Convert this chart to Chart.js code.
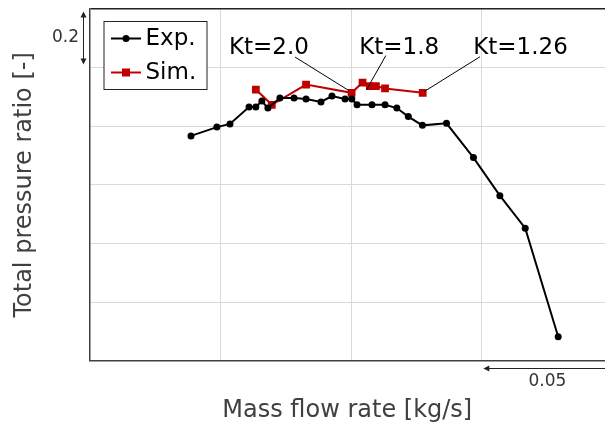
<!DOCTYPE html>
<html>
<head>
<meta charset="utf-8">
<script src="https://cdn.jsdelivr.net/npm/chart.js@4.4.1/dist/chart.umd.min.js"></script>
<style>
html, body { margin: 0; padding: 0; background: #fff; }
</style>
</head>
<body>
<canvas id="pressureChart" width="605" height="428"></canvas>
<script>
// values (x: kg/s, y: total pressure ratio)
const expFlow = [0.1388, 0.1487, 0.1537, 0.1610, 0.1636, 0.1659, 0.1682, 0.1728, 0.1782, 0.1828,
    0.1885, 0.1927, 0.1977, 0.2003, 0.2023, 0.2080, 0.2130, 0.2175, 0.2219, 0.2273,
    0.2365, 0.2468, 0.2569, 0.2666, 0.2792];
const expRatio = [1.767, 1.797, 1.808, 1.866, 1.866, 1.886, 1.862, 1.896, 1.896, 1.893,
    1.883, 1.903, 1.893, 1.893, 1.873, 1.873, 1.873, 1.862, 1.833, 1.803,
    1.810, 1.693, 1.563, 1.452, 1.082];

const simFlow = [0.1636, 0.1697, 0.1828, 0.2002, 0.2044, 0.2072, 0.2095, 0.2130, 0.2274];
const simRatio = [1.925, 1.873, 1.942, 1.914, 1.949, 1.937, 1.937, 1.929, 1.914];

const ktLabels = ['Kt=2.0', 'Kt=1.8', 'Kt=1.26'];
const ktTextX = [0.1686, 0.2184, 0.2648];
const ktTextY = [2.047, 2.047, 2.047];
const ktFromX = [0.1786, 0.2133, 0.2493];
const ktFromY = [2.036, 2.041, 2.037];
const ktToX = [0.1993, 0.2060, 0.2279];
const ktToY = [1.921, 1.926, 1.918];

const seriesNames = ['Exp.', 'Sim.'];
const xRange = [0.1, 0.2971];
const yRange = [1.0, 2.2];
const xBar = [0.25, 0.30];
const yBar = [2.2, 2.0];

const FONT = '"DejaVu Sans", Verdana, sans-serif';
const RED = '#c00000';

const toPoints = (xs, ys) => xs.map((x, i) => ({ x: x, y: ys[i] }));

function arrowHead(ctx, x, y, dx, dy) {
    // dx,dy: unit direction the arrow points to
    const len = 6, half = 3;
    ctx.beginPath();
    ctx.moveTo(x, y);
    ctx.lineTo(x - dx * len - dy * half, y - dy * len - dx * half);
    ctx.lineTo(x - dx * len + dy * half, y - dy * len + dx * half);
    ctx.closePath();
    ctx.fill();
}

const decorations = {
    id: 'decorations',
    afterDatasetsDraw(chart) {
        const { ctx, chartArea, scales: { x, y } } = chart;
        ctx.save();

        // leader lines and Kt labels
        ctx.strokeStyle = '#000';
        ctx.lineWidth = 1;
        ctx.fillStyle = '#000';
        ctx.font = '23px ' + FONT;
        ctx.textAlign = 'center';
        ctx.textBaseline = 'alphabetic';
        ktLabels.forEach((label, i) => {
            ctx.beginPath();
            ctx.moveTo(x.getPixelForValue(ktFromX[i]), y.getPixelForValue(ktFromY[i]));
            ctx.lineTo(x.getPixelForValue(ktToX[i]), y.getPixelForValue(ktToY[i]));
            ctx.stroke();
            ctx.fillText(label, x.getPixelForValue(ktTextX[i]), y.getPixelForValue(ktTextY[i]));
        });

        // legend box
        const bx = chartArea.left + 14.5, by = chartArea.top + 12.5;
        ctx.fillStyle = '#fff';
        ctx.fillRect(bx, by, 103, 68);
        ctx.strokeStyle = '#222';
        ctx.strokeRect(bx, by, 103, 68);
        const rows = [by + 17, by + 51];
        const colors = ['#000', RED];
        rows.forEach((ry, i) => {
            ctx.strokeStyle = colors[i];
            ctx.fillStyle = colors[i];
            ctx.lineWidth = 2;
            ctx.beginPath();
            ctx.moveTo(bx + 7, ry);
            ctx.lineTo(bx + 37, ry);
            ctx.stroke();
            if (i === 0) {
                ctx.beginPath();
                ctx.arc(bx + 22, ry, 3.5, 0, Math.PI * 2);
                ctx.fill();
            } else {
                ctx.fillRect(bx + 18, ry - 4, 8, 8);
            }
            ctx.fillStyle = '#000';
            ctx.textAlign = 'left';
            ctx.textBaseline = 'middle';
            ctx.fillText(seriesNames[i], bx + 41.5, ry + 1);
        });

        // scale bars
        ctx.strokeStyle = '#222';
        ctx.fillStyle = '#222';
        ctx.lineWidth = 1;
        const vx = Math.round(chartArea.left - 7) + 0.5;
        const vTop = y.getPixelForValue(yBar[0]) + 2.5;
        const vBot = y.getPixelForValue(yBar[1]) - 3;
        ctx.beginPath();
        ctx.moveTo(vx, vTop + 4);
        ctx.lineTo(vx, vBot - 4);
        ctx.stroke();
        arrowHead(ctx, vx, vTop, 0, -1);
        arrowHead(ctx, vx, vBot, 0, 1);
        ctx.font = '17px ' + FONT;
        ctx.textAlign = 'right';
        ctx.textBaseline = 'middle';
        ctx.fillStyle = '#333';
        ctx.fillText('0.2', chartArea.left - 10.5, (vTop + vBot) / 2);

        ctx.fillStyle = '#222';
        const hy = Math.round(chartArea.bottom + 7) + 0.5;
        const hLeft = x.getPixelForValue(xBar[0]) + 1.5;
        const hRight = x.getPixelForValue(xBar[1]) - 1;
        ctx.beginPath();
        ctx.moveTo(hLeft + 4, hy);
        ctx.lineTo(hRight - 4, hy);
        ctx.stroke();
        arrowHead(ctx, hLeft, hy, -1, 0);
        arrowHead(ctx, hRight, hy, 1, 0);
        ctx.fillStyle = '#333';
        ctx.textAlign = 'center';
        ctx.textBaseline = 'alphabetic';
        ctx.fillText('0.05', (hLeft + hRight) / 2, chartArea.bottom + 25.5);

        ctx.restore();
    }
};

new Chart(document.getElementById('pressureChart'), {
    type: 'line',
    data: {
        datasets: [{
            label: seriesNames[0],
            data: toPoints(expFlow, expRatio),
            borderColor: '#000',
            backgroundColor: '#000',
            borderWidth: 2,
            pointStyle: 'circle',
            pointRadius: 3.5,
            pointBorderWidth: 0,
            tension: 0,
        }, {
            label: seriesNames[1],
            data: toPoints(simFlow, simRatio),
            borderColor: RED,
            backgroundColor: RED,
            borderWidth: 2,
            pointStyle: 'rect',
            pointRadius: 5.5,
            pointBorderWidth: 0,
            tension: 0,
        }]
    },
    options: {
        responsive: false,
        animation: false,
        devicePixelRatio: 1,
        layout: { autoPadding: false, padding: { top: 9, right: 0, bottom: 0, left: 0 } },
        plugins: {
            legend: { display: false },
            tooltip: { enabled: false },
        },
        scales: {
            x: {
                type: 'linear',
                min: xRange[0],
                max: xRange[1],
                ticks: { display: false, stepSize: 0.05, includeBounds: false },
                grid: { color: '#d9d9d9', drawTicks: false },
                border: { color: '#404040', width: 1.5 },
                title: {
                    display: true,
                    text: 'Mass flow rate [kg/s]',
                    color: '#404040',
                    font: { family: FONT, size: 24 },
                    padding: { top: 35.6, bottom: 2.9 },
                },
            },
            y: {
                type: 'linear',
                min: yRange[0],
                max: yRange[1],
                ticks: { display: false, stepSize: 0.2 },
                grid: {
                    drawTicks: false,
                    color: c => (c.tick && Math.abs(c.tick.value - yRange[1]) < 1e-6) ? '#222' : '#d9d9d9',
                    lineWidth: c => (c.tick && Math.abs(c.tick.value - yRange[1]) < 1e-6) ? 1.5 : 1,
                },
                border: { color: '#404040', width: 1.5 },
                title: {
                    display: true,
                    text: 'Total pressure ratio [-]',
                    color: '#404040',
                    font: { family: FONT, size: 24 },
                    padding: { top: 10.6, bottom: 50.1 },
                },
            },
        },
    },
    plugins: [decorations],
});
</script>
</body>
</html>
